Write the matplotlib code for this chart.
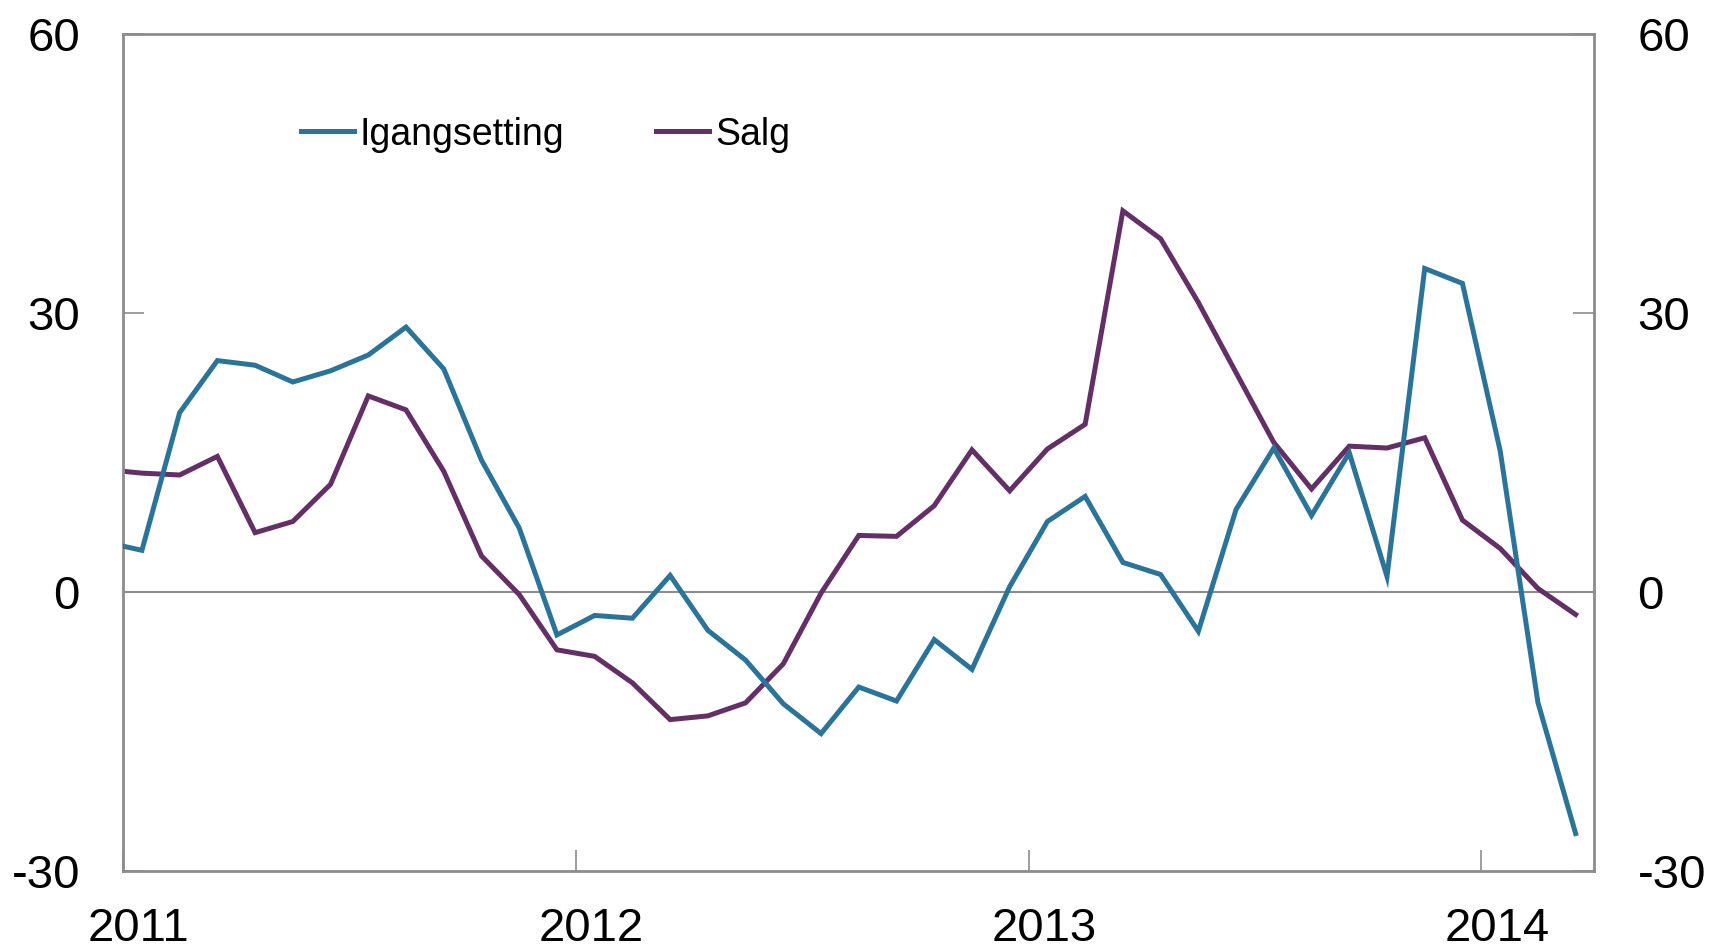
# Igangsetting og salg av nye boliger, 2011-2014
import numpy as np
import matplotlib.pyplot as plt

plt.rcParams['font.family'] = ['Liberation Sans', 'DejaVu Sans']

# månedlige verdier, des 2010 - mars 2014 (midt i måneden)
start_year = 2010
start_month = 12
igangsetting = [5.4, 4.5, 19.3, 24.9, 24.4, 22.6, 23.8, 25.5, 28.5, 24.0, 14.2, 6.9, -4.6,
                -2.5, -2.8, 1.8, -4.1, -7.3, -12.0, -15.2, -10.2, -11.7, -5.1, -8.3, 0.6,
                7.6, 10.3, 3.2, 1.9, -4.2, 8.9, 15.5, 8.25, 15.0, 1.7, 34.8, 33.2,
                15.2, -11.85, -25.95]
salg = [13.2, 12.8, 12.6, 14.6, 6.4, 7.6, 11.6, 21.1, 19.6, 13.0, 3.9, -0.25, -6.2,
        -6.9, -9.75, -13.7, -13.3, -11.9, -7.7, -0.1, 6.1, 6.0, 9.3, 15.3, 10.9,
        15.4, 18.05, 41.0, 38.0, 31.15, 23.6, 16.1, 11.1, 15.7, 15.5, 16.6, 7.75,
        4.7, 0.4, -2.4]
year_labels = ["2011", "2012", "2013", "2014"]
y_ticks = [-30, 0, 30, 60]

months = np.arange(len(salg))
x = start_year + (start_month - 1 + months + 0.5) / 12.0

BLUE = "#2a7499"
PURPLE = "#632f66"
GREY = "#8c8c8c"

fig = plt.figure(figsize=(17.09, 9.48), dpi=100)
ax = fig.add_axes([0.072, 0.081, 0.861, 0.883])

ax.axhline(0, color=GREY, linewidth=1.5, zorder=1)
ax.plot(x, igangsetting, color=BLUE, linewidth=3.6, label="Igangsetting",
        solid_joinstyle="miter", zorder=3)
ax.plot(x, salg, color=PURPLE, linewidth=3.6, label="Salg",
        solid_joinstyle="miter", zorder=2)

ax.set_xlim(2011.0, 2014.25)
ax.set_ylim(-30, 60)

# årstall: tikk ved årsskiftet, etikett litt til høyre
years = [int(y) for y in year_labels]
ax.set_xticks(years)
ax.set_xticklabels([])
ax.set_xticks([y + 0.035 for y in years], minor=True)
ax.set_xticklabels(year_labels, minor=True)
ax.tick_params(axis="x", which="major", direction="in", length=15, width=1.2, color=GREY)
ax.tick_params(axis="x", which="minor", length=0, pad=26, labelsize=34)

ax.set_yticks(y_ticks)
ax.set_yticklabels([str(v) for v in y_ticks])
ax.tick_params(axis="y", direction="in", length=15, width=1.2, color=GREY,
               labelsize=34, pad=31, left=True, right=True,
               labelleft=True, labelright=True)

for sp in ax.spines.values():
    sp.set_color(GREY)
    sp.set_linewidth(2.0)

ax.legend(loc="center left", bbox_to_anchor=(0.121, 0.88), ncol=2, frameon=False,
          fontsize=27, borderpad=0, borderaxespad=0, handlelength=1.42,
          handletextpad=0.15, columnspacing=2.44)

fig.savefig("out.png", dpi=100)
